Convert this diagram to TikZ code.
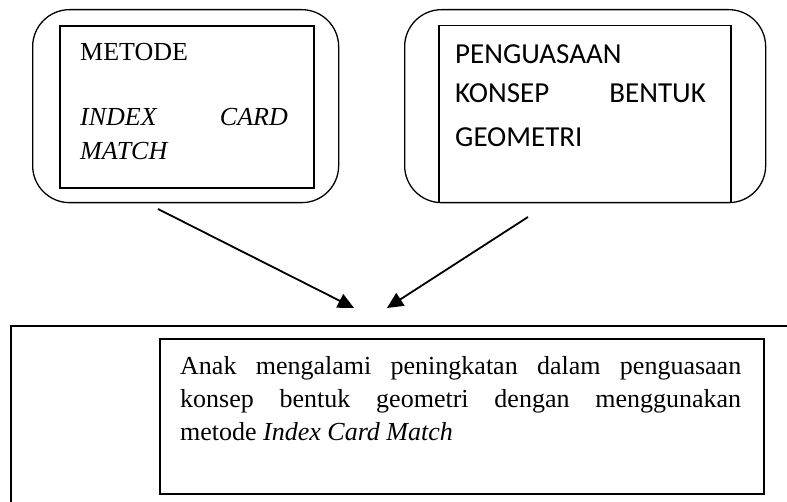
\documentclass[tikz,border=0pt]{standalone}
\usepackage{fontspec}
\setmainfont{Liberation Serif}
\newfontfamily\calibfont{Carlito}
\usetikzlibrary{arrows.meta}
\begin{document}
\begin{tikzpicture}[x=1pt,y=-1pt,
  outerbox/.style={draw, line width=1.3pt, rounded corners=37pt, inner sep=0pt, anchor=north west},
  innerbox/.style={draw, line width=1.8pt, inner sep=0pt, anchor=north west},
  tnr/.style={font=\fontsize{26}{30}\selectfont, inner sep=0pt},
  cal/.style={font=\calibfont\fontsize{29}{33}\selectfont, inner sep=0pt},
  frame/.style={line width=1.8pt},
  arr/.style={line width=1.8pt, -{Triangle[length=16pt,width=15pt]}}]
\useasboundingbox (0,0) rectangle (787,502);
% left box
\node[outerbox, minimum width=306pt, minimum height=193pt] (louter) at (32,9) {};
\node[innerbox, minimum width=254pt, minimum height=162pt] (linner) at (59,25) {};
\node[tnr, anchor=base west] (t1) at (80,61) {METODE};
\node[tnr, anchor=base west] (t2) at (80,126) {\textit{INDEX}};
\node[tnr, anchor=base east] (t3) at (288,126) {\textit{CARD}};
\node[tnr, anchor=base west] (t4) at (80,160) {\textit{MATCH}};
% right box
\node[outerbox, minimum width=361pt, minimum height=193pt] (router) at (404,9) {};
\node[innerbox, line width=1.5pt, minimum width=292pt, minimum height=177pt] (rinner) at (438,25) {};
\node[cal, anchor=base west] (r1) at (455,64) {PENGUASAAN};
\node[cal, anchor=base west] (r2) at (455,103) {KONSEP};
\node[cal, anchor=base east] (r3) at (706,103) {BENTUK};
\node[cal, anchor=base west] (r4) at (455,147) {GEOMETRI};
% bottom frame
\coordinate (fr) at (787,326);
\coordinate (fc) at (11,326);
\coordinate (fb) at (11,502);
\draw[frame] (fr) -- (fc) -- (fb);
\node[innerbox, minimum width=604pt, minimum height=155pt] (binner) at (159,338) {};
\node[tnr, anchor=base west] (b1) at (180,374) {\makebox[561pt][s]{Anak mengalami peningkatan dalam penguasaan}};
\node[tnr, anchor=base west] (b2) at (180,407) {\makebox[561pt][s]{konsep bentuk geometri dengan menggunakan}};
\node[tnr, anchor=base west] (b3) at (180,440) {metode \textit{Index Card Match}};
% arrows
\coordinate (a1s) at (158,209);
\coordinate (tip1) at (354,308);
\coordinate (a2s) at (528,217);
\coordinate (tip2) at (387,308);
\draw[arr] (a1s) -- (tip1);
\draw[arr] (a2s) -- (tip2);
\end{tikzpicture}
\end{document}
